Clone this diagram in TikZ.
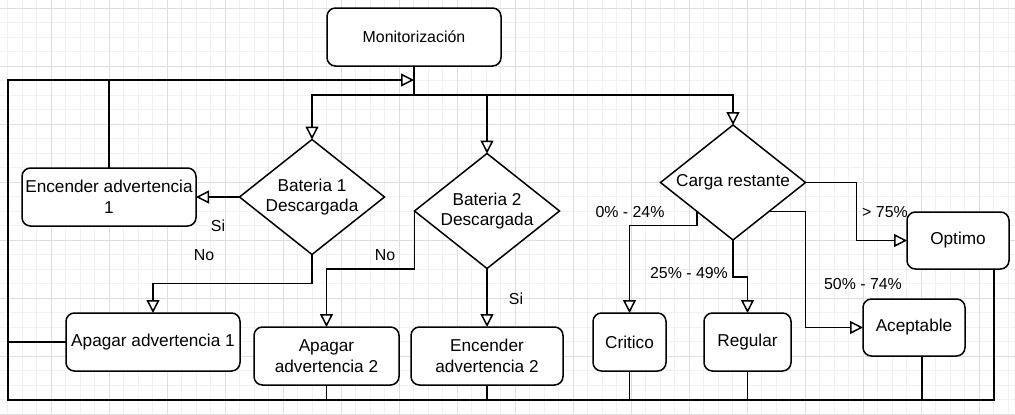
\documentclass[tikz,border=0pt]{standalone}
\usepackage{fontspec}
\setmainfont{Liberation Sans}
\usetikzlibrary{arrows.meta,shapes.geometric}
\definecolor{gmaj}{HTML}{DEDEDE}
\definecolor{gmin}{HTML}{F1F1F1}
\newcommand\fsA{\fontsize{17.2}{20.5}\selectfont}
\newcommand\fsB{\fontsize{15.9}{19}\selectfont}
\tikzset{
  box/.style={draw, line width=1.5pt, rounded corners=8.5pt, fill=white, align=center,
    inner sep=0pt, outer sep=0pt, font=\fsA},
  dia/.style={draw, diamond, line width=1.5pt, fill=white, inner sep=0pt, outer sep=0pt,
    minimum width=145pt, minimum height=115pt},
  lbl/.style={font=\fsB, inner sep=0pt},
  conn/.style={line width=1.5pt},
  arr/.style={conn, -{Triangle[fill=white,length=13pt,width=13pt]}},
  gminor/.style={draw=gmin, line width=0.9pt},
  gmajor/.style={draw=gmaj, line width=0.9pt}
}
\begin{document}
\begin{tikzpicture}[x=1pt,y=-1pt]
\fill[white] (0,0) rectangle (1015,415);
\useasboundingbox (0,0) rectangle (1015,415);
% grid
\foreach \i in {0,...,69} {\draw[gminor] ({7.5+14.5*\i},0) -- ({7.5+14.5*\i},415);}
\foreach \i in {0,...,28} {\draw[gminor] (0,{8+14.5*\i}) -- (1015,{8+14.5*\i});}
\foreach \i in {0,...,16} {\draw[gmajor] ({51+58*\i},0) -- ({51+58*\i},415);}
\foreach \i in {0,...,7} {\draw[gmajor] (0,{8+58*\i}) -- (1015,{8+58*\i});}

% nodes
\node[box, font=\fsB, minimum width=174pt, minimum height=58pt] (mon) at (414,37) {Monitorización};
\node[box, minimum width=174pt, minimum height=58pt] (enc1) at (109,197) {Encender advertencia\\1};
\node[box, minimum width=174pt, minimum height=58pt] (apag1) at (153,342) {Apagar advertencia 1};
\node[box, minimum width=145pt, minimum height=58pt] (apag2) at (326.5,356) {Apagar\\advertencia 2};
\node[box, minimum width=152pt, minimum height=58pt] (enc2) at (487,356) {Encender\\advertencia 2};
\node[dia, label={[align=center,font=\fsA]center:Bateria 1\\Descargada}] (d1) at (312,197) {};
\node[dia, label={[align=center,font=\fsA]center:Bateria 2\\Descargada}] (d2) at (487,211) {};
\node[dia, label={[align=center,font=\fsA]center:Carga restante}] (d3) at (733,182.5) {};
\node[box, minimum width=73pt, minimum height=58pt] (crit) at (629.5,342) {Critico};
\node[box, minimum width=87pt, minimum height=58pt] (reg) at (747.5,342) {Regular};
\node[box, minimum width=102pt, minimum height=57pt] (acep) at (914,327.5) {Aceptable};
\node[box, minimum width=102pt, minimum height=57pt] (opt) at (958,240.5) {Optimo};

% helper coordinates
\coordinate (s) at (414,95);
\coordinate (j) at (414,80);
\coordinate (bl) at (8,400);
\coordinate (br) at (994,400);
\coordinate (acx) at (922,400);

% from monitor
\draw[conn] (mon.south) -- (s);
\draw[arr] (s) -| (d1.north);
\draw[arr] (s) -| (d2.north);
\draw[arr] (s) -| (d3.north);

% feedback loop
\draw[arr] (br |- opt.south) -- (br) -- (bl) |- (j);
\draw[conn] (enc1.north) -- (enc1.north |- j);
\draw[conn] (apag1.west) -- (apag1.west -| bl);
\draw[conn] (apag2.south) -- (apag2.south |- bl);
\draw[conn] (enc2.south) -- (enc2.south |- bl);
\draw[conn] (crit.south) -- (crit.south |- bl);
\draw[conn] (reg.south) -- (reg.south |- bl);
\draw[conn] (acx |- acep.south) -- (acx);

% battery 1
\draw[arr] (d1.west) -- (enc1.east);
\draw[arr] (d1.south) -- ++(0,29) -| (apag1.north);
% battery 2
\draw[arr] (d2.west) -- ++(0,58) -| (apag2.north);
\draw[arr] (d2.south) -- (enc2.north);
% charge
\draw[arr] (d3.south west) -- ++(0,14) -| (crit.north);
\draw[arr] (d3.south) -- ++(0,37) -| (reg.north);
\draw[arr] (d3.south east) -- ++(36,0) |- (acep.west);
\draw[arr] (d3.east) -- ++(51,0) |- (opt.west);

% labels
\node[lbl] (si1) at (218,226) {Si};
\node[lbl] (no1) at (204,255) {No};
\node[lbl] (no2) at (385,255) {No};
\node[lbl] (si2) at (516,299) {Si};
\node[lbl] (p1) at (630,212) {0\% - 24\%};
\node[lbl] (p2) at (689,273) {25\% - 49\%};
\node[lbl] (p3) at (863,284) {50\% - 74\%};
\node[lbl] (p4) at (885,212) {> 75\%};
\end{tikzpicture}
\end{document}
